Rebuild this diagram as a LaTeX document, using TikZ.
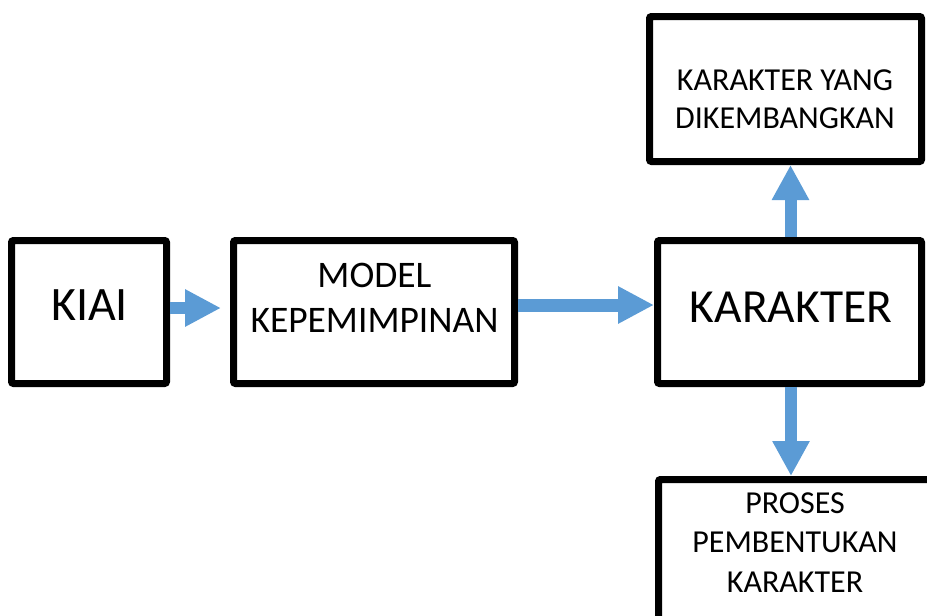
\documentclass[tikz,border=0pt]{standalone}
\usepackage{fontspec}
\setmainfont{Carlito}
\usetikzlibrary{arrows.meta}
\definecolor{arrowblue}{HTML}{5B9BD5}
\begin{document}
\begin{tikzpicture}[x=1pt,y=-1pt,
  box/.style={draw=black, line width=7pt, rounded corners=2pt, inner sep=0pt},
  flow/.style={draw=arrowblue, line width=12pt, -{Triangle[width=35pt,length=36pt]}},
  bigtext/.style={font=\fontsize{48}{48}\selectfont, anchor=base},
  smalltext/.style={font=\fontsize{32}{38}\selectfont, align=center, anchor=base}
]
\useasboundingbox (0,0) rectangle (927,616);
\clip (0,0) rectangle (927,616);

\node[box, minimum width=155pt, minimum height=143pt] (kiai) at (89,312) {};
\node[box, minimum width=281pt, minimum height=143pt] (model) at (374,312) {};
\node[box, minimum width=264pt, minimum height=143pt] (kar) at (789.5,312) {};
\node[box, minimum width=272pt, minimum height=145pt] (dev) at (785.5,89) {};
\node[box, minimum width=273pt, minimum height=200pt] (proc) at (795,579.5) {};

\node[bigtext] (kiaiT) at (89.5,320) {KIAI};
\node[bigtext, font=\fontsize{47.5}{47.5}\selectfont] (karT) at (791,322) {KARAKTER};
\node[smalltext, font=\fontsize{37.5}{45}\selectfont] (modelT) at (374.5,332) {MODEL\\KEPEMIMPINAN};
\node[smalltext] (devT) at (785,128) {KARAKTER YANG\\DIKEMBANGKAN};
\node[smalltext, font=\fontsize{32}{39.5}\selectfont] (procT) at (795,592) {PROSES\\PEMBENTUKAN\\KARAKTER};

\draw[flow] ([yshift=4pt]kiai.east) -- ([yshift=4pt]model.west) [shorten >=9pt];
\draw[flow, line width=13pt] ([yshift=7pt]model.east) -- ([yshift=7pt]kar.west);
\draw[flow, -{Triangle[width=35pt,length=35pt]}] ([xshift=1pt]kar.north) -- ([xshift=1pt]kar.north |- dev.south);
\draw[flow, -{Triangle[width=35pt,length=35pt]}] ([xshift=1.5pt]kar.south) -- ([xshift=1.5pt]kar.south |- proc.north);
\end{tikzpicture}
\end{document}
